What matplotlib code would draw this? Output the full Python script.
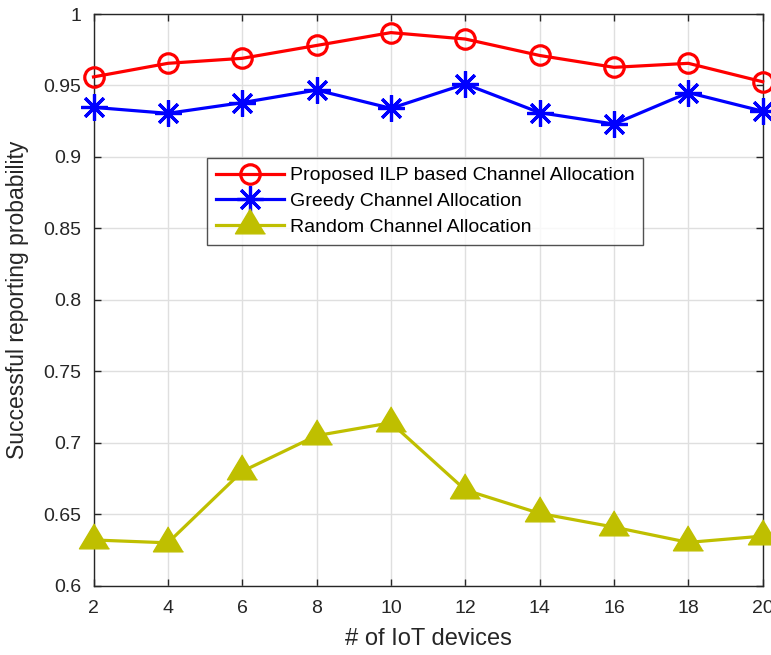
import matplotlib
matplotlib.use("Agg")
import matplotlib.pyplot as plt

plt.rcParams['font.family'] = ['Liberation Sans', 'DejaVu Sans']

devices = [2, 4, 6, 8, 10, 12, 14, 16, 18, 20]
ilp = [0.956, 0.9655, 0.969, 0.978, 0.987, 0.9825, 0.971, 0.9627, 0.9655, 0.9526]
greedy = [0.9347, 0.9305, 0.938, 0.9468, 0.934, 0.951, 0.931, 0.923, 0.945, 0.932]
random_alloc = [0.632, 0.630, 0.680, 0.705, 0.714, 0.667, 0.6506, 0.641, 0.6303, 0.6347]

xticks = [2, 4, 6, 8, 10, 12, 14, 16, 18, 20]
yticks = [0.6, 0.65, 0.7, 0.75, 0.8, 0.85, 0.9, 0.95, 1.0]
yticklabels = ['0.6', '0.65', '0.7', '0.75', '0.8', '0.85', '0.9', '0.95', '1']

fig = plt.figure(figsize=(7.71, 6.55), dpi=100)
ax = fig.add_axes([0.1213, 0.1058, 0.9892 - 0.1213, 0.9786 - 0.1058])

dark = '#262626'
tri = [(0, 50), (-45, -25), (45, -25)]
ax.plot(devices, ilp, '-o', color='red', lw=2.3, ms=14, mfc='none', mew=2.3,
        label='Proposed ILP based Channel Allocation', clip_on=False, zorder=3)
ax.plot(devices, greedy, '-', marker=(8, 2, 0), color='blue', lw=2.3, ms=19, mew=2.3,
        label='Greedy Channel Allocation', clip_on=False, zorder=3)
ax.plot(devices, random_alloc, '-', marker=tri, color='#bfbf00', lw=2.3, ms=24, mew=1,
        label='Random Channel Allocation', clip_on=False, zorder=3)

ax.set_xlim(2, 20)
ax.set_ylim(0.6, 1.0)
ax.set_xticks(xticks)
ax.set_xticklabels([str(v) for v in xticks])
ax.set_yticks(yticks)
ax.set_yticklabels(yticklabels)
ax.grid(True, color='#dfdfdf', lw=1.0)
ax.set_axisbelow(True)
ax.tick_params(direction='in', top=True, right=True, length=5, width=1.0,
               colors=dark, labelsize=14)
ax.tick_params(axis='x', pad=10)
ax.tick_params(axis='y', pad=9)
for s in ax.spines.values():
    s.set_color(dark)
    s.set_linewidth(1.0)

ax.set_xlabel('# of IoT devices', fontsize=17, color=dark, labelpad=8)
ax.set_ylabel('Successful reporting probability', fontsize=16.5, color=dark, labelpad=10)

leg = ax.legend(loc='upper left', bbox_to_anchor=((207 - 93.5) / (762.7 - 93.5), 1 - (158 - 14) / (585.7 - 14)),
                fontsize=14, frameon=True, fancybox=False, edgecolor=dark,
                borderpad=0.45, labelspacing=0.42, handlelength=3.5, handletextpad=0.3,
                borderaxespad=0)
leg.get_frame().set_linewidth(1.0)

fig.savefig('out.png', dpi=100)
